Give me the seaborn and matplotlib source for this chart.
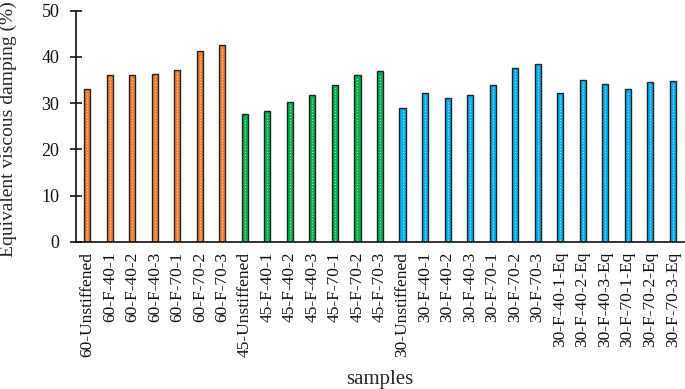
import numpy as np
import pandas as pd
import matplotlib
matplotlib.use('Agg')
import matplotlib.pyplot as plt
import seaborn as sns

# data
samples = ['60-Unstiffened', '60-F-40-1', '60-F-40-2', '60-F-40-3', '60-F-70-1', '60-F-70-2', '60-F-70-3',
           '45-Unstiffened', '45-F-40-1', '45-F-40-2', '45-F-40-3', '45-F-70-1', '45-F-70-2', '45-F-70-3',
           '30-Unstiffened', '30-F-40-1', '30-F-40-2', '30-F-40-3', '30-F-70-1', '30-F-70-2', '30-F-70-3',
           '30-F-40-1-Eq', '30-F-40-2-Eq', '30-F-40-3-Eq', '30-F-70-1-Eq', '30-F-70-2-Eq', '30-F-70-3-Eq']
damping = [33.1, 36.1, 36.1, 36.4, 37.1, 41.2, 42.5,
           27.6, 28.4, 30.3, 31.7, 33.9, 36.1, 36.9,
           29.0, 32.3, 31.2, 31.7, 33.9, 37.7, 38.4,
           32.3, 35.1, 34.1, 33.0, 34.6, 34.9]
groups = ['60'] * 7 + ['45'] * 7 + ['30'] * 13
colors = {'60': '#ED7D31', '45': '#00B050', '30': '#00B0F0'}

df = pd.DataFrame({'sample': samples, 'damping': damping, 'group': groups})

sns.set_style('white')
plt.rcParams['font.family'] = ['Liberation Serif', 'DejaVu Serif']

fig = plt.figure(figsize=(6.85, 3.89), dpi=100)
ax = fig.add_axes([0.111, 0.378, 0.8875, 0.5945])

sns.barplot(data=df, x='sample', y='damping', hue='group', palette=colors,
            dodge=False, width=0.27, edgecolor='#222222', linewidth=1.0,
            saturation=1, legend=False, ax=ax)

# white dotted centre line in each bar
for p in ax.patches:
    if p.get_height() > 0:
        cx = p.get_x() + p.get_width() / 2
        ax.plot([cx, cx], [0.5, p.get_height() - 0.5], color='white', lw=0.7,
                ls=(0, (1, 2)), alpha=0.8, zorder=p.get_zorder() + 0.1)

ax.set_xlim(-0.5, len(samples) - 0.5)
ax.set_ylim(0, 50)
ax.set_yticks(range(0, 51, 10))
ax.set_xticks(range(len(samples)))
ax.set_xticklabels(samples, rotation=90)
ax.set_xticks(np.arange(-0.5, len(samples), 1), minor=True)
ax.tick_params(axis='x', which='major', length=0, pad=7, labelsize=12.5, colors='#111111')
ax.tick_params(axis='x', which='minor', length=8, direction='inout', width=1.2, color='#111111')
ax.tick_params(axis='y', which='major', length=8, direction='inout', width=1.2, labelsize=13,
               colors='#111111', left=True, pad=8)

for s in ['top', 'right']:
    ax.spines[s].set_visible(False)
for s in ['left', 'bottom']:
    ax.spines[s].set_color('#111111')
    ax.spines[s].set_linewidth(1.2)

ax.set_ylabel('Equivalent viscous damping (%)', fontsize=14)
ax.set_xlabel('samples', fontsize=15)
ax.yaxis.set_label_coords(-0.097, 0.49)
ax.xaxis.set_label_coords(0.5, -0.555)

fig.savefig('out.png', dpi=100)
